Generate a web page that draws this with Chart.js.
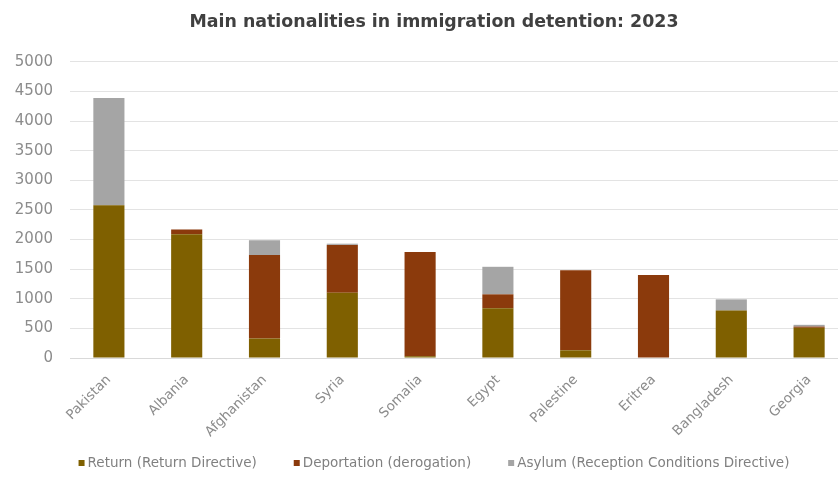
<!DOCTYPE html>
<html>
<head>
<meta charset="utf-8">
<script src="https://cdn.jsdelivr.net/npm/chart.js@4.4.1/dist/chart.umd.min.js"></script>
<style>
  html, body { margin: 0; padding: 0; background: #fff; overflow: hidden; }
  #wrap { width: 868px; height: 479px; }
</style>
</head>
<body>
<div id="wrap"><canvas id="detentionChart" width="868" height="479"></canvas></div>
<script>
// nationalities and detention counts per legal basis
const nationalities = ['Pakistan', 'Albania', 'Afghanistan', 'Syria', 'Somalia', 'Egypt', 'Palestine', 'Eritrea', 'Bangladesh', 'Georgia'];
const returnDirective = [2580, 2090, 330, 1100, 30, 840, 130, 0, 800, 510];
const deportation = [0, 80, 1410, 810, 1760, 235, 1350, 1400, 0, 20];
const asylum = [1810, 0, 250, 20, 0, 465, 0, 0, 190, 30];
const yTicks = [0, 500, 1000, 1500, 2000, 2500, 3000, 3500, 4000, 4500, 5000];

const FONT = 'DejaVu Sans';

// legend row under the axis labels, wider item spacing than the built-in one allows
const bottomLegend = {
    id: 'bottomLegend',
    afterDraw(chart, args, opts) {
        const ctx = chart.ctx;
        const sets = chart.data.datasets;
        ctx.save();
        ctx.font = opts.fontSize + 'px ' + FONT;
        ctx.textBaseline = 'middle';
        const widths = sets.map(ds => opts.box + opts.boxGap + ctx.measureText(ds.label).width);
        const total = widths.reduce((a, b) => a + b, 0) + opts.gap * (sets.length - 1);
        let x = chart.width / 2 - total / 2;
        sets.forEach((ds, i) => {
            ctx.fillStyle = ds.backgroundColor;
            ctx.fillRect(x, opts.y - opts.box / 2, opts.box, opts.box);
            ctx.fillStyle = opts.color;
            ctx.fillText(ds.label, x + opts.box + opts.boxGap, opts.y);
            x += widths[i] + opts.gap;
        });
        ctx.restore();
    }
};

const ctx = document.getElementById('detentionChart');
const chart = new Chart(ctx, {
    type: 'bar',
    data: {
        labels: nationalities,
        datasets: [
            {
                label: 'Return (Return Directive)',
                data: returnDirective,
                backgroundColor: '#7F6000'
            },
            {
                label: 'Deportation (derogation)',
                data: deportation,
                backgroundColor: '#8B3A0C'
            },
            {
                label: 'Asylum (Reception Conditions Directive)',
                data: asylum,
                backgroundColor: '#A5A5A5'
            }
        ]
    },
    plugins: [bottomLegend],
    options: {
        responsive: false,
        animation: false,
        datasets: {
            bar: { barPercentage: 0.4, categoryPercentage: 1.0 }
        },
        layout: { padding: 0 },
        plugins: {
            title: {
                display: true,
                text: 'Main nationalities in immigration detention: 2023',
                color: '#404040',
                font: { family: FONT, size: 17.4, weight: 'bold' },
                padding: { top: 12, bottom: 29 }
            },
            legend: { display: false },
            bottomLegend: { y: 463, fontSize: 13.5, box: 6, boxGap: 3, gap: 37, color: '#808080' },
            tooltip: { enabled: false }
        },
        scales: {
            x: {
                stacked: true,
                grid: { display: false },
                border: { color: '#d9d9d9' },
                ticks: {
                    minRotation: 45,
                    maxRotation: 45,
                    padding: 6,
                    color: '#8c8c8c',
                    font: { family: FONT, size: 13.5 }
                },
                afterFit: function (scale) { scale.height = 121; }
            },
            y: {
                stacked: true,
                min: 0,
                max: 5000,
                afterBuildTicks: function (scale) {
                    scale.ticks = yTicks.map(v => ({ value: v }));
                },
                grid: { color: '#e3e3e3', drawTicks: false },
                border: { display: false },
                ticks: {
                    padding: 17,
                    color: '#8c8c8c',
                    font: { family: FONT, size: 15 },
                    callback: function (value) { return String(value); }
                },
                afterFit: function (scale) { scale.width = 70; }
            },
            // empty margin on the right of the plot
            spacer: {
                type: 'linear',
                position: 'right',
                grid: { display: false },
                border: { display: false },
                ticks: { display: false },
                afterFit: function (scale) { scale.width = 20; }
            }
        }
    }
});
</script>
</body>
</html>
